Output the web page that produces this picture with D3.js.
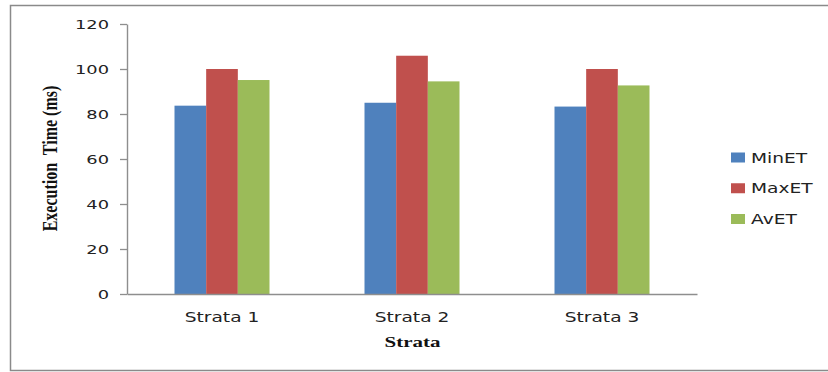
<!DOCTYPE html>
<html>
<head>
<meta charset="utf-8">
<script src="https://cdn.jsdelivr.net/npm/d3@7"></script>
<style>
  html, body { margin: 0; padding: 0; background: #fff; }
  svg { display: block; }
</style>
</head>
<body>
<svg id="chart" width="828" height="372"></svg>
<script>
const categories = ["Strata 1", "Strata 2", "Strata 3"];
const seriesNames = ["MinET", "MaxET", "AvET"];
const minET = [83.7, 85.0, 83.3];
const maxET = [100.0, 105.9, 100.0];
const avET = [95.1, 94.5, 92.7];
const seriesColors = ["#4F81BD", "#C0504D", "#9BBB59"];
const yTicks = [0, 20, 40, 60, 80, 100, 120];
const yTitle = "Execution  Time (ms)";
const xTitle = "Strata";

const seriesValues = [minET, maxET, avET];
const rows = categories.map((c, i) => ({
  cat: c,
  vals: seriesNames.map((s, j) => ({ key: s, value: seriesValues[j][i], color: seriesColors[j] }))
}));

const svg = d3.select("#chart");
const SX = 1.33; // horizontal stretch seen in reference text

// outer frame
svg.append("rect").attr("x", 10.5).attr("y", 5.5).attr("width", 830).attr("height", 365)
  .attr("fill", "#fff").attr("stroke", "#8a8a8a").attr("stroke-width", 1.5);

const x0 = d3.scaleBand().domain(categories).range([127, 697]).paddingInner(0.5).paddingOuter(0.25);
const x1 = d3.scaleBand().domain(seriesNames).range([0, x0.bandwidth()]);
const y = d3.scaleLinear().domain([0, 120]).range([294, 24]);

// bars
const g = svg.append("g");
g.selectAll("g.grp").data(rows).join("g").attr("class", "grp")
  .attr("transform", d => `translate(${x0(d.cat)},0)`)
  .selectAll("rect").data(d => d.vals).join("rect")
  .attr("x", d => x1(d.key))
  .attr("y", d => y(d.value))
  .attr("width", x1.bandwidth())
  .attr("height", d => y(0) - y(d.value))
  .attr("fill", d => d.color);

// y axis
const yAxis = svg.append("g").attr("transform", "translate(127,0)")
  .call(d3.axisLeft(y).tickValues(yTicks).tickSize(7).tickSizeOuter(0).tickFormat(d3.format("d")));
yAxis.select(".domain").attr("stroke", "#8e8e8e").attr("stroke-width", 1.4);
yAxis.selectAll(".tick line").attr("stroke", "#8e8e8e").attr("stroke-width", 1.3);
yAxis.selectAll(".tick text")
  .attr("x", 0).attr("dy", null)
  .attr("dominant-baseline", "central")
  .attr("text-anchor", "end")
  .attr("transform", `translate(-18,0.5) scale(${SX + 0.04},1)`)
  .attr("font-family", "DejaVu Sans").attr("font-size", 13).attr("fill", "#222");

// x axis
const xAxis = svg.append("g").attr("transform", "translate(0,294)")
  .call(d3.axisBottom(x0).tickSize(0).tickSizeOuter(0));
xAxis.select(".domain").attr("stroke", "#8e8e8e").attr("stroke-width", 1.4);
xAxis.selectAll(".tick text")
  .attr("y", 0).attr("dy", null)
  .attr("text-anchor", "middle")
  .attr("transform", `translate(0,28) scale(${SX},1)`)
  .attr("font-family", "DejaVu Sans").attr("font-size", 14).attr("fill", "#222");

// axis titles
svg.append("text")
  .attr("transform", `translate(56.5,158.5) rotate(-90) scale(1,1.25)`)
  .attr("text-anchor", "middle")
  .style("white-space", "pre")
  .attr("font-family", "Liberation Serif").attr("font-weight", "bold").attr("font-size", 16)
  .attr("fill", "#111").text(yTitle);

svg.append("text")
  .attr("transform", `translate(412.5,346.5) scale(1.4,1)`)
  .attr("text-anchor", "middle")
  .attr("font-family", "Liberation Serif").attr("font-weight", "bold").attr("font-size", 15)
  .attr("fill", "#111").text(xTitle);

// legend
const legY = d3.scalePoint().domain(seriesNames).range([157.5, 219]);
const leg = svg.append("g").selectAll("g").data(seriesNames).join("g")
  .attr("transform", d => `translate(731,${legY(d)})`);
leg.append("rect").attr("x", 0).attr("y", -5).attr("width", 14).attr("height", 10)
  .attr("fill", (d, i) => seriesColors[i]);
leg.append("text")
  .attr("transform", `translate(20,0.5) scale(${SX},1)`)
  .attr("dominant-baseline", "central")
  .attr("font-family", "DejaVu Sans").attr("font-size", 14).attr("fill", "#222")
  .text(d => d);
</script>
</body>
</html>
